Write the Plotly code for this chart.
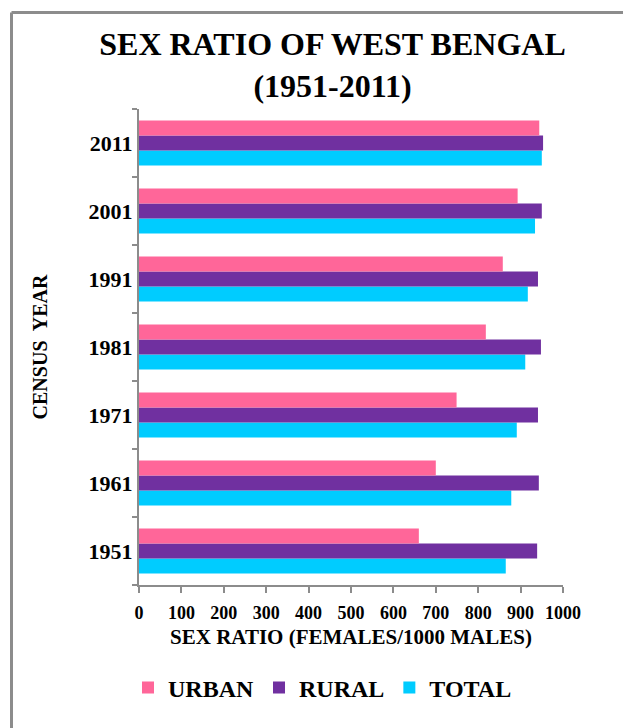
import plotly.graph_objects as go

# Census years and sex ratio (females per 1000 males), West Bengal
years = ["1951", "1961", "1971", "1981", "1991", "2001", "2011"]
urban = [660, 700, 749, 818, 858, 893, 944]
rural = [939, 943, 941, 948, 941, 950, 953]
total = [865, 878, 891, 911, 917, 934, 950]

x_ticks = [0, 100, 200, 300, 400, 500, 600, 700, 800, 900, 1000]

SERIF = "Liberation Serif"
GREY = "#8c8c8c"

fig = go.Figure()
# Traces added bottom-to-top within each group: TOTAL, RURAL, URBAN
fig.add_trace(go.Bar(y=years, x=total, name="TOTAL", orientation="h",
                     marker=dict(color="#00CCFF", line=dict(width=0))))
fig.add_trace(go.Bar(y=years, x=rural, name="RURAL", orientation="h",
                     marker=dict(color="#7030A0", line=dict(width=0))))
fig.add_trace(go.Bar(y=years, x=urban, name="URBAN", orientation="h",
                     marker=dict(color="#FF6699", line=dict(width=0))))

L, R, T, B = 139, 60, 109, 143
W, H = 623, 728
pw = W - L - R
ph = H - T - B

fig.update_layout(
    width=W, height=H,
    margin=dict(l=L, r=R, t=T, b=B, pad=0),
    paper_bgcolor="white",
    plot_bgcolor="white",
    barmode="group",
    bargap=0.34,
    bargroupgap=0,
    font=dict(family=SERIF, color="black"),
    title=dict(
        text="SEX RATIO OF WEST BENGAL<br>(1951-2011)",
        font=dict(family=SERIF, size=32, weight="bold", color="black"),
        x=332.5 / W, xanchor="center", xref="container",
        y=1 - 55 / H, yanchor="top", yref="container",
    ),
    xaxis=dict(
        range=[0, 1000],
        tickvals=x_ticks,
        ticktext=[str(v) for v in x_ticks],
        ticks="outside", ticklen=6, tickwidth=2, tickcolor=GREY,
        showline=True, linecolor=GREY, linewidth=2,
        showgrid=False, zeroline=False,
        tickfont=dict(family=SERIF, size=18, weight="bold", color="black"),
        ticklabelstandoff=4,
        title=dict(text="SEX RATIO (FEMALES/1000 MALES)",
                   font=dict(family=SERIF, size=21, weight="bold", color="black"),
                   standoff=8),
        fixedrange=True,
    ),
    yaxis=dict(
        type="category",
        categoryorder="array", categoryarray=years,
        tickson="boundaries",
        ticks="outside", ticklen=5, tickwidth=2, tickcolor=GREY,
        showline=True, linecolor=GREY, linewidth=2,
        showgrid=False, zeroline=False,
        tickfont=dict(family=SERIF, size=22, weight="bold", color="black"),
        title=dict(text="CENSUS\u00a0 YEAR",
                   font=dict(family=SERIF, size=20, weight="bold", color="black"),
                   standoff=36),
        fixedrange=True,
    ),
    legend=dict(
        orientation="h",
        traceorder="reversed",
        x=(322.5 - L) / pw, xanchor="center",
        y=-(688 - (T + ph)) / ph, yanchor="middle",
        font=dict(family=SERIF, size=24, weight="bold", color="black"),
        itemwidth=30,
        bgcolor="rgba(0,0,0,0)",
    ),
    showlegend=True,
)

# Chart frame: left and top edges of the surrounding border
bx = (11.5 - L) / pw
by = (ph + T - 12.5) / ph
fig.add_shape(type="line", xref="paper", yref="paper",
              x0=bx, x1=bx, y0=by, y1=-1.0,
              line=dict(color=GREY, width=3))
fig.add_shape(type="line", xref="paper", yref="paper",
              x0=bx, x1=2.0, y0=by, y1=by,
              line=dict(color=GREY, width=3))

fig.write_html("out.html")
